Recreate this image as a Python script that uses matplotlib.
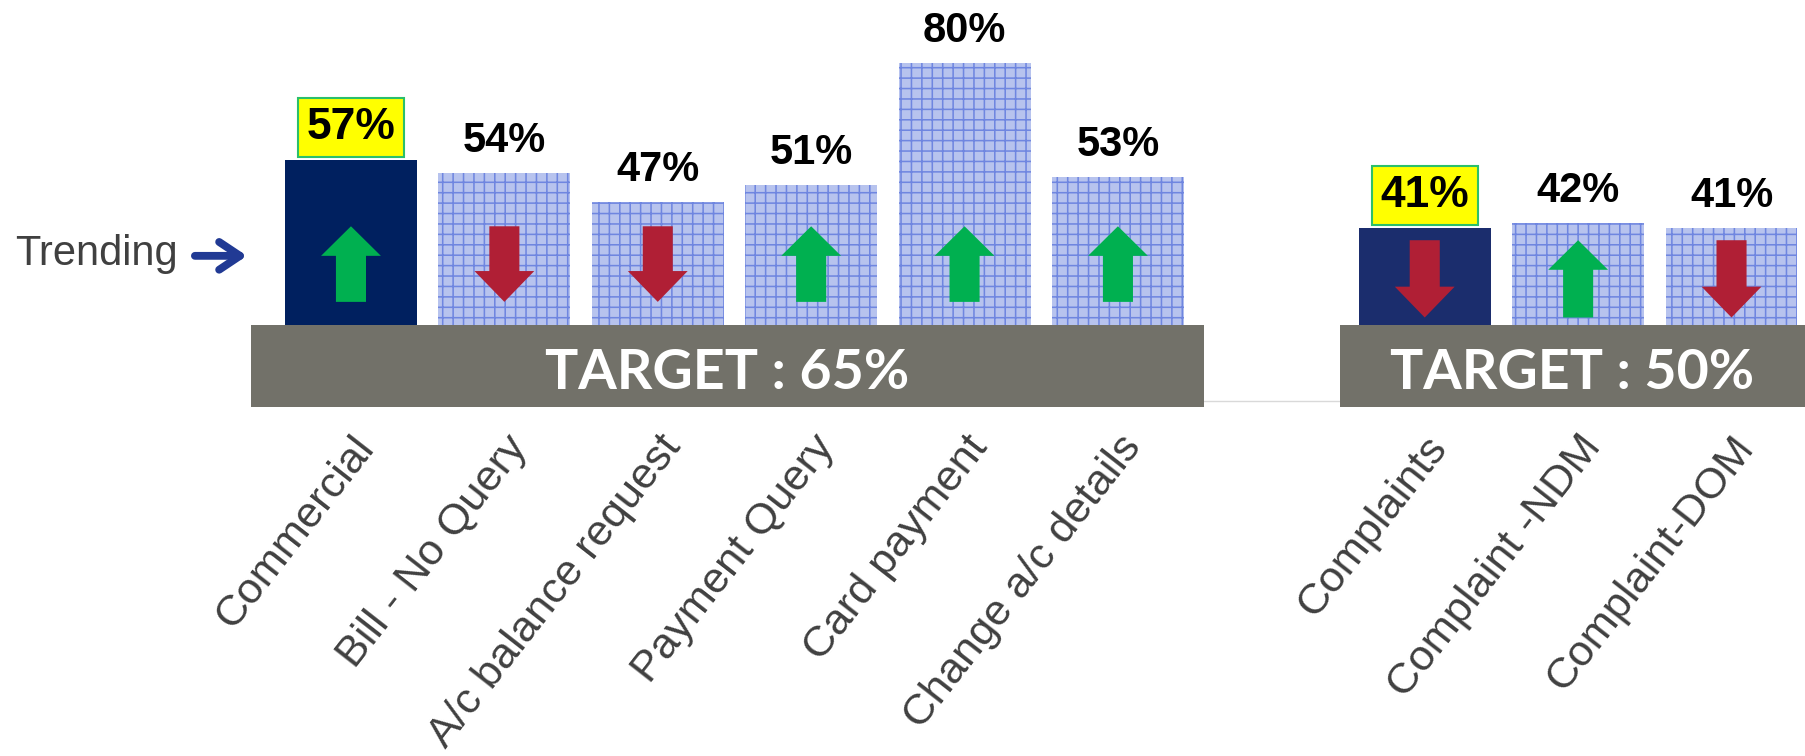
import matplotlib.pyplot as plt
from matplotlib.patches import FancyArrow, FancyArrowPatch, Rectangle

plt.rcParams['hatch.linewidth'] = 0.9

### DATA ###
categories = ["Commercial", "Bill - No Query", "A/c balance request", "Payment Query",
              "Card payment", "Change a/c details",
              "Complaints", "Complaint -NDM", "Complaint-DOM"]
values = [57, 54, 47, 51, 80, 53, 41, 42, 41]
trend = ["up", "down", "down", "up", "up", "up", "down", "up", "down"]
highlight = [True, False, False, False, False, False, True, False, False]
group = [0, 0, 0, 0, 0, 0, 1, 1, 1]
targets = ["TARGET : 65%", "TARGET : 50%"]

### STYLE ###
dark_colors = ["#00205f", "#1b2d6d"]
light_fill = "#b7c3ee"
grid_color = "#6f86e0"
band_color = "#727169"
up_color = "#00b050"
down_color = "#b01f35"
text_grey = "#404040"
band_x = [(-0.652, 5.561), (6.447, 9.7)]
band_y = (-1.6, 17.9)
arrow_y = [(23.4, 41.3), (19.7, 38.0)]

positions = [i + g for i, g in enumerate(group)]

fig = plt.figure(figsize=(14.44, 6.048), dpi=125)
ax = fig.add_axes([0, 0, 1, 1])
ax.set_xlim(-2.288, 9.479)
ax.set_ylim(-84.13, 94.88)
ax.axis("off")

# baseline, only visible between the two target bands
ax.hlines(0, band_x[0][0], band_x[1][0], color="#d9d9d9", lw=0.8, zorder=0)

for i, (x, v) in enumerate(zip(positions, values)):
    g = group[i]
    if highlight[i]:
        ax.bar(x, v, width=0.86, color=dark_colors[g], lw=0, zorder=2)
    else:
        ax.bar(x, v, width=0.86, facecolor=light_fill, edgecolor=grid_color,
               hatch="++", lw=0, zorder=2)

    # trend arrow
    lo, hi = arrow_y[g]
    if trend[i] == "up":
        arr = FancyArrow(x, lo, 0, hi - lo, width=0.196, head_width=0.39,
                         head_length=7.0, length_includes_head=True,
                         color=up_color, lw=0, zorder=4)
    else:
        arr = FancyArrow(x, hi, 0, lo - hi, width=0.196, head_width=0.39,
                         head_length=7.3, length_includes_head=True,
                         color=down_color, lw=0, zorder=4)
    ax.add_patch(arr)

    # value label
    label = f"{v}%"
    if highlight[i]:
        ax.annotate(label, (x, v), xytext=(0, 12), textcoords="offset points",
                    ha="center", va="baseline", fontsize=25.6, fontweight="bold",
                    family="Liberation Sans", color="black", zorder=5,
                    bbox=dict(boxstyle="square,pad=0.2", fc="#ffff00",
                              ec="#2bbf6a", lw=1.2))
    else:
        ax.annotate(label, (x, v), xytext=(0, 12), textcoords="offset points",
                    ha="center", va="baseline", fontsize=24, fontweight="bold",
                    family="Liberation Sans", color="black", zorder=5)

    # category label
    ax.text(x + 0.1, -9.4, categories[i], rotation=52, rotation_mode="anchor",
            ha="right", va="center", fontsize=25, family="Liberation Sans",
            color=text_grey)

# target bands
for (x0, x1), t in zip(band_x, targets):
    ax.add_patch(Rectangle((x0, band_y[0]), x1 - x0, band_y[1] - band_y[0],
                           color=band_color, lw=0, zorder=3))
    xc = (x0 + min(x1, 9.479)) / 2
    ax.text(xc, 6.6, t, ha="center", va="center",
            fontsize=32, fontweight="bold", family="Lato", color="white", zorder=4)

# trending marker
ax.text(-1.128, 32.1, "Trending", ha="right", va="baseline", fontsize=24,
        family="Liberation Sans", color=text_grey)
ax.add_patch(FancyArrowPatch((-1.04, 34.3), (-0.655, 34.3),
                             arrowstyle="->,head_length=12,head_width=8",
                             mutation_scale=1, lw=4.5, color="#213a94",
                             capstyle="round", joinstyle="round"))

fig.savefig("out.png", dpi=125)
